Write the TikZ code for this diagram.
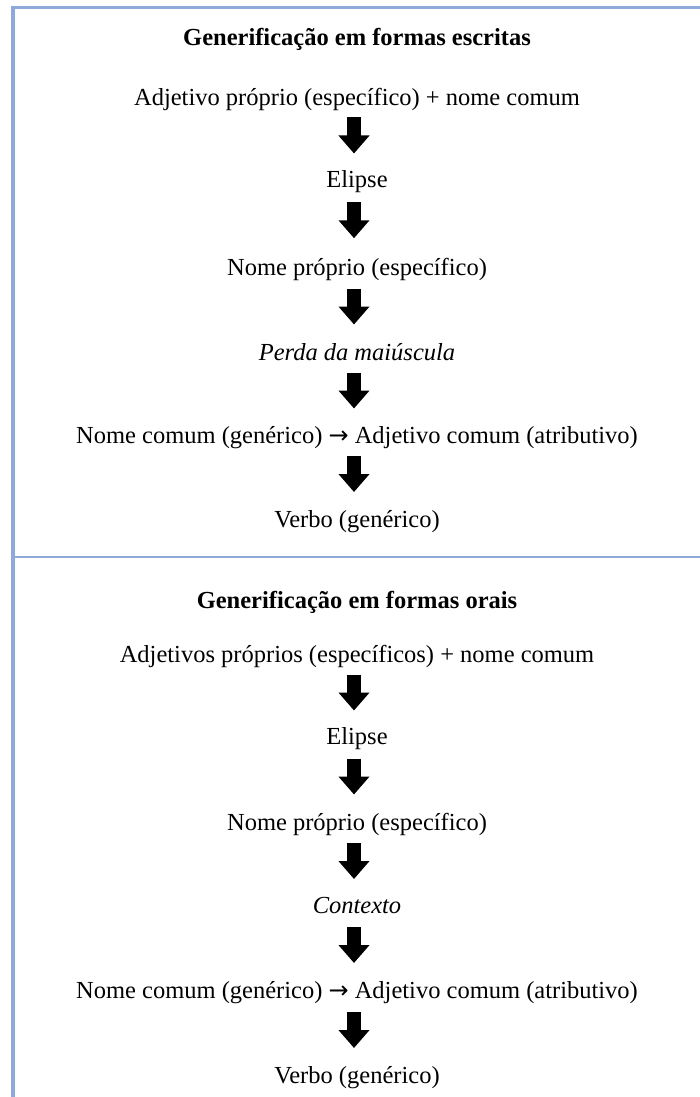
\documentclass[tikz,border=0pt]{standalone}
\usepackage{fontspec}
\setmainfont{Liberation Serif}
\newfontfamily\arrfont{DejaVu Sans}
\usetikzlibrary{arrows.meta,calc}
\definecolor{rulecol}{RGB}{142,170,219}
\begin{document}
\begin{tikzpicture}[x=1pt,y=-1pt,
  txt/.style={font=\fontsize{24.5}{28}\selectfont, inner sep=0pt, anchor=base, text height=17pt, text depth=5pt},
  ttl/.style={txt, font=\fontsize{24.5}{28}\selectfont\bfseries},
  blk/.style={line width=14pt, -{Triangle[width=30pt,length=18pt]}},
  rulethick/.style={draw=rulecol, line width=#1}]
\useasboundingbox (0,0) rectangle (700,1097);
% frame lines
\draw[rulethick=3pt] (11,7.5) -- (700,7.5);
\draw[rulethick=4pt] (13,6) -- (13,1097);
\draw[rulethick=2pt] (13,557) -- (700,557);
% upper section
\node[ttl] (t1) at (357,46) {Generificação em formas escritas};
\node[txt] (a1) at (357,105.5) {Adjetivo próprio (específico) + nome comum};
\node[txt] (a2) at (357,187.5) {Elipse};
\node[txt] (a3) at (357,275) {Nome próprio (específico)};
\node[txt] (a4) at (357,360) {\itshape Perda da maiúscula};
\node[txt] (a5) at (357,443) {Nome comum (genérico) {\arrfont\fontsize{24}{28}\selectfont →} Adjetivo comum (atributivo)};
\node[txt] (a6) at (357,527) {Verbo (genérico)};
% lower section
\node[ttl] (t2) at (357,608) {Generificação em formas orais};
\node[txt] (b1) at (357,662.5) {Adjetivos próprios (específicos) + nome comum};
\node[txt] (b2) at (357,744.5) {Elipse};
\node[txt] (b3) at (357,830.5) {Nome próprio (específico)};
\node[txt] (b4) at (357,913.5) {\itshape Contexto};
\node[txt] (b5) at (357,998.5) {Nome comum (genérico) {\arrfont\fontsize{24}{28}\selectfont →} Adjetivo comum (atributivo)};
\node[txt] (b6) at (357,1083.5) {Verbo (genérico)};
% block arrows
\foreach \p/\q in {a1/a2,a2/a3,a3/a4,a4/a5,a5/a6,b1/b2,b2/b3,b3/b4,b4/b5,b5/b6}{
  \draw[blk] ($(\p.south)!.5!(\q.north)+(-3,-23)$) -- ($(\p.south)!.5!(\q.north)+(-3,13)$);
}
\end{tikzpicture}
\end{document}
